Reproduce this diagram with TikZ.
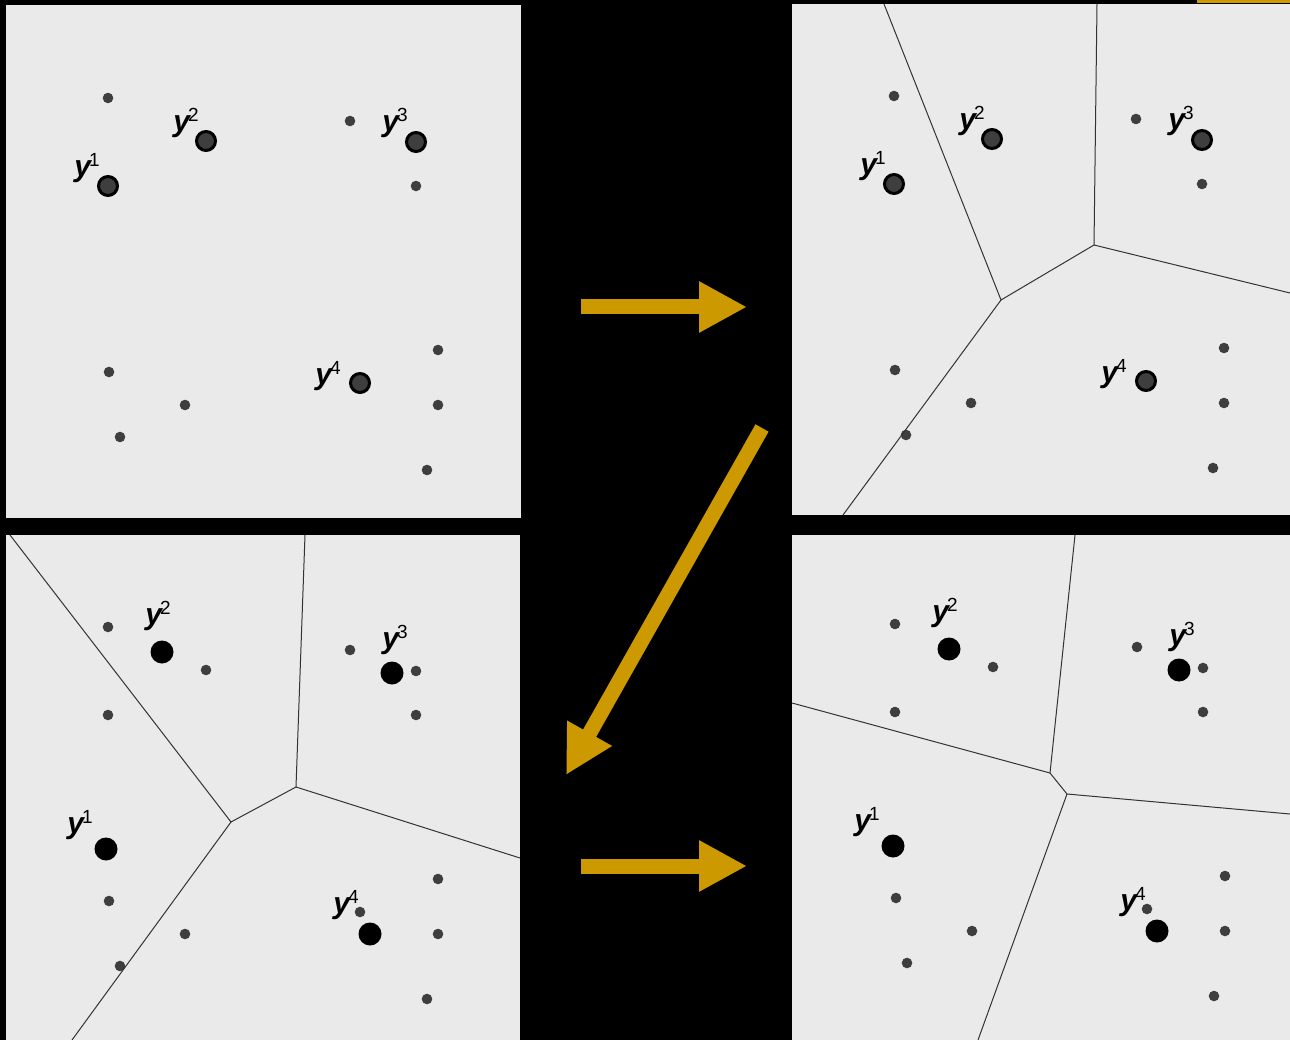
\documentclass[tikz,border=0pt]{standalone}
\usepackage{fontspec}
\setmainfont{Liberation Sans}
\usetikzlibrary{arrows.meta}
\definecolor{gold}{HTML}{CC9900}
\definecolor{cellbg}{HTML}{EAEAEA}
\definecolor{dotgray}{HTML}{3E3E3E}
\newcommand{\ylab}[1]{{\fontsize{30}{30}\selectfont\bfseries\itshape y}\kern-2pt\raisebox{10pt}{\fontsize{19}{19}\selectfont #1}}

\begin{document}
\begin{tikzpicture}[x=1pt,y=-1pt,
    panel/.style={fill=cellbg},
    pt/.style={fill=dotgray},
    cenold/.style={fill=dotgray,draw=black,line width=3pt},
    cennew/.style={fill=black},
    cell/.style={draw=black!80,line width=1pt},
    lab/.style={inner sep=0pt},
    flow/.style={gold,line width=15pt,-{Triangle[length=48pt,width=48pt]}}]
    \useasboundingbox (0,0) rectangle (1290,1040);
    \fill[black] (0,0) rectangle (1290,1040);
    \fill[gold] (1197,0) rectangle (1290,3);

    %panels
    \fill[panel] (6,5) rectangle (521,518);
    \fill[panel] (792,4) rectangle (1290,515);
    \fill[panel] (6,535) rectangle (520,1040);
    \fill[panel] (792,535) rectangle (1290,1040);

    % data, in coordinates of the first panel
    \def\smallpts{108/98,350/121,416/186,109/372,185/405,120/437,438/350,438/405,427/470}
    \def\oldcen{108/186,206/141,416/142,360/383}
    \def\newcen{106/320,162/123,392/144,370/405}

    %top row
    \foreach \p/\dx/\dy in {a/0/0,b/786/-2}{
      \begin{scope}[shift={(\dx,\dy)}]
        \foreach \x/\y in \smallpts
          \fill[pt] (\x,\y) circle[radius=5.3pt];
        \foreach \x/\y in \oldcen
          \filldraw[cenold] (\x,\y) circle[radius=9.5pt];
        \foreach \x/\y/\k in {87/168/1,186/123/2,395/123/3,328/376/4}
          \node[lab] (\p y\k) at (\x,\y) {\ylab{\k}};
      \end{scope}
    }

    %bottom row
    \foreach \p/\dx/\dy in {c/0/529,d/787/526}{
      \begin{scope}[shift={(\dx,\dy)}]
        \foreach \x/\y in \smallpts
          \fill[pt] (\x,\y) circle[radius=5.3pt];
        \foreach \x/\y in \oldcen
          \fill[pt] (\x,\y) circle[radius=5.3pt];
        \foreach \x/\y in \newcen
          \fill[cennew] (\x,\y) circle[radius=11.5pt];
        \foreach \x/\y/\k in {80/296/1,158/87/2,395/111/3,346/376/4}
          \node[lab] (\p y\k) at (\x,\y) {\ylab{\k}};
      \end{scope}
    }

    % cells
    \begin{scope}
      \clip (792,4) rectangle (1290,515);
      \coordinate (vA) at (1001,300);
      \coordinate (vB) at (1094,245);
      \draw[cell] (884,4) -- (vA) -- (vB) -- (1097,4);
      \draw[cell] (843,515) -- (vA);
      \draw[cell] (vB) -- (1290,293);
    \end{scope}
    \begin{scope}
      \clip (6,535) rectangle (520,1040);
      \coordinate (vC) at (231,822);
      \coordinate (vD) at (296,787);
      \draw[cell] (10,535) -- (vC) -- (vD) -- (305,535);
      \draw[cell] (72,1040) -- (vC);
      \draw[cell] (vD) -- (520,858);
    \end{scope}
    \begin{scope}
      \clip (792,535) rectangle (1290,1040);
      \coordinate (vE) at (1050,773);
      \coordinate (vF) at (1067,794);
      \draw[cell] (1075,535) -- (vE) -- (vF) -- (1290,814);
      \draw[cell] (792,703) -- (vE);
      \draw[cell] (vF) -- (978,1040);
    \end{scope}

    %arrows
    \coordinate (f1s) at (581,307);
    \coordinate (f1e) at (747,307);
    \coordinate (f2s) at (762,428);
    \coordinate (f2e) at (566,775);
    \coordinate (f3s) at (581,866);
    \coordinate (f3e) at (747,866);
    \draw[flow] (f1s) -- (f1e);
    \draw[flow] (f2s) -- (f2e);
    \draw[flow] (f3s) -- (f3e);
\end{tikzpicture}
\end{document}
